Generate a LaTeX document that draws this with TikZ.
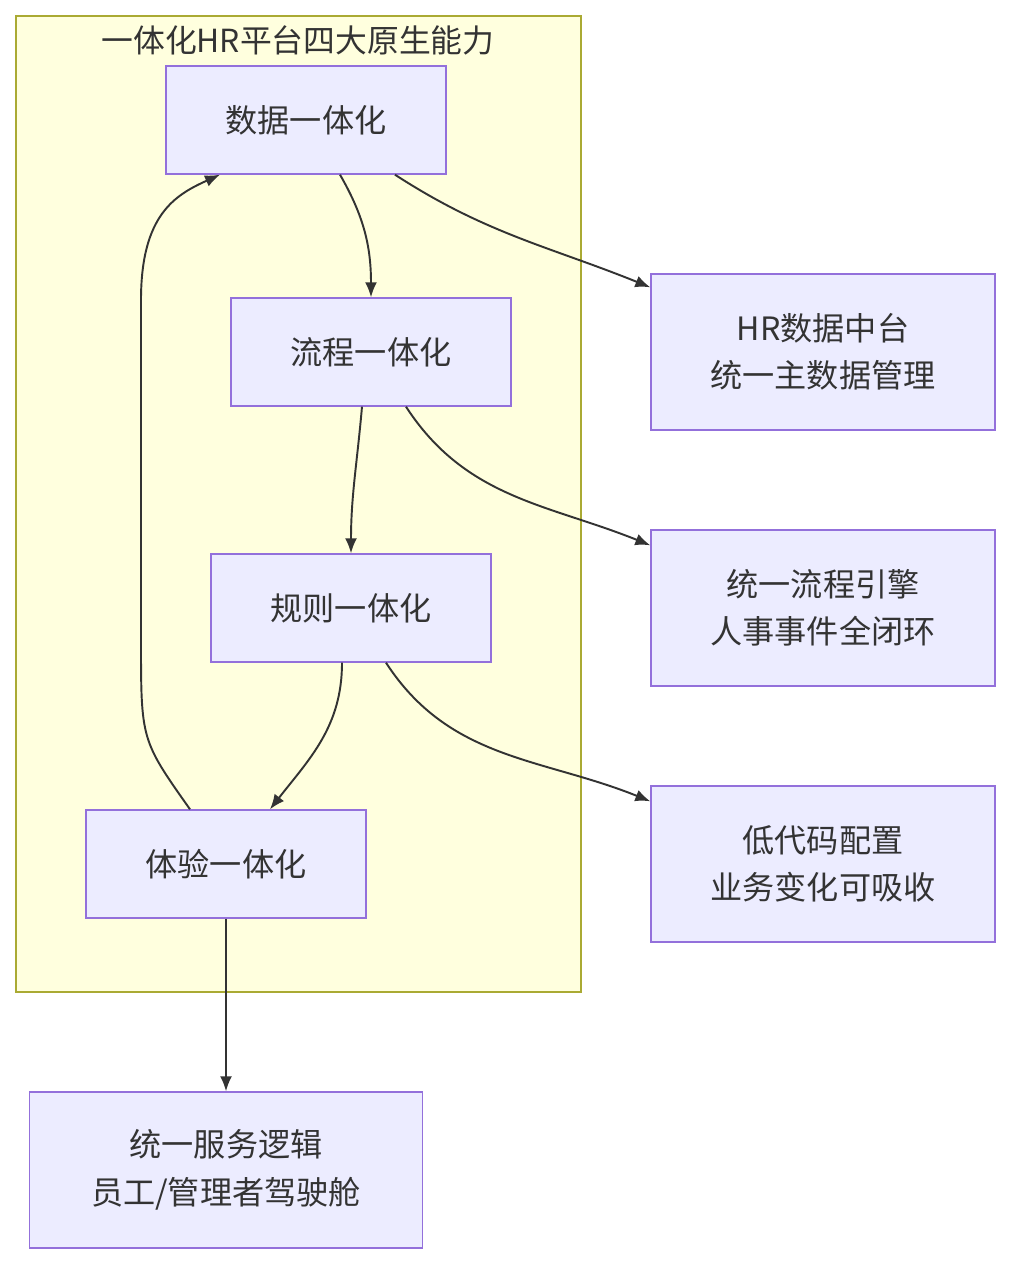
\documentclass[tikz,border=0pt]{standalone}
\usepackage{fontspec}
\setmainfont{Noto Sans CJK SC}
\usetikzlibrary{arrows.meta, positioning, calc}

\definecolor{nodefill}{HTML}{ECECFF}
\definecolor{nodeline}{HTML}{9370DB}
\definecolor{groupfill}{HTML}{FFFFDE}
\definecolor{groupline}{HTML}{AAAA33}
\definecolor{ink}{HTML}{333333}

\begin{document}
\begin{tikzpicture}[
    x=0.02cm, y=-0.02cm,
    step box/.style={
        rectangle, draw=nodeline, fill=nodefill, line width=0.8pt,
        minimum width=5.6cm, minimum height=2.16cm,
        font=\fontsize{18.3}{27}\selectfont, text=ink, align=center
    },
    out box/.style={
        step box, minimum width=6.88cm, minimum height=3.12cm
    },
    arr/.style={-{Latex[length=0.3cm, width=0.24cm]}, draw=ink, line width=1.1pt},
]
\useasboundingbox (0,0) rectangle (1011,1264);

% Platform group
\draw[groupline, fill=groupfill, line width=0.8pt] (16,16) rectangle (581,992);
\node[font=\fontsize{18.1}{27}\selectfont, text=ink] (title) at (298,40) {一体化HR平台四大原生能力};

% Four capabilities
\node[step box] (data)    at (306,120) {数据一体化};
\node[step box] (flow)    at (371,352) {流程一体化};
\node[step box] (rule)    at (351,608) {规则一体化};
\node[step box] (exp)     at (226,864) {体验一体化};

% Outcomes
\node[out box] (hub)    at (823,352) {HR数据中台\\统一主数据管理};
\node[out box] (engine) at (823,608) {统一流程引擎\\人事事件全闭环};
\node[out box] (lowcode) at (823,864) {低代码配置\\业务变化可吸收};
\node[out box, minimum width=7.86cm] (service) at (226,1170) {统一服务逻辑\\员工/管理者驾驶舱};

% Chain
\draw[arr] ($(data.south)+(34,0)$) to[out=-60, in=90] (flow.north);
\draw[arr] ($(flow.south)+(-9,0)$) to[out=-95, in=90] (rule.north);
\draw[arr] ($(rule.south)+(-9,0)$) to[out=-90, in=52] ($(exp.north)+(44,0)$);
\draw[arr] ($(exp.north)+(-36,0)$) .. controls (141,740) .. (141,640)
    -- (141,300) .. controls (141,215) and (175,195) .. ($(data.south)+(-86,0)$);

% Outputs
\draw[arr] ($(data.south)+(89,0)$) to[out=-33, in=158] ($(hub.north west)+(0,14)$);
\draw[arr] ($(flow.south)+(35,0)$) to[out=-57, in=158] ($(engine.north west)+(0,16)$);
\draw[arr] ($(rule.south)+(35,0)$) to[out=-57, in=158] ($(lowcode.north west)+(0,16)$);
\draw[arr] (exp.south) -- (service.north);

\end{tikzpicture}
\end{document}
